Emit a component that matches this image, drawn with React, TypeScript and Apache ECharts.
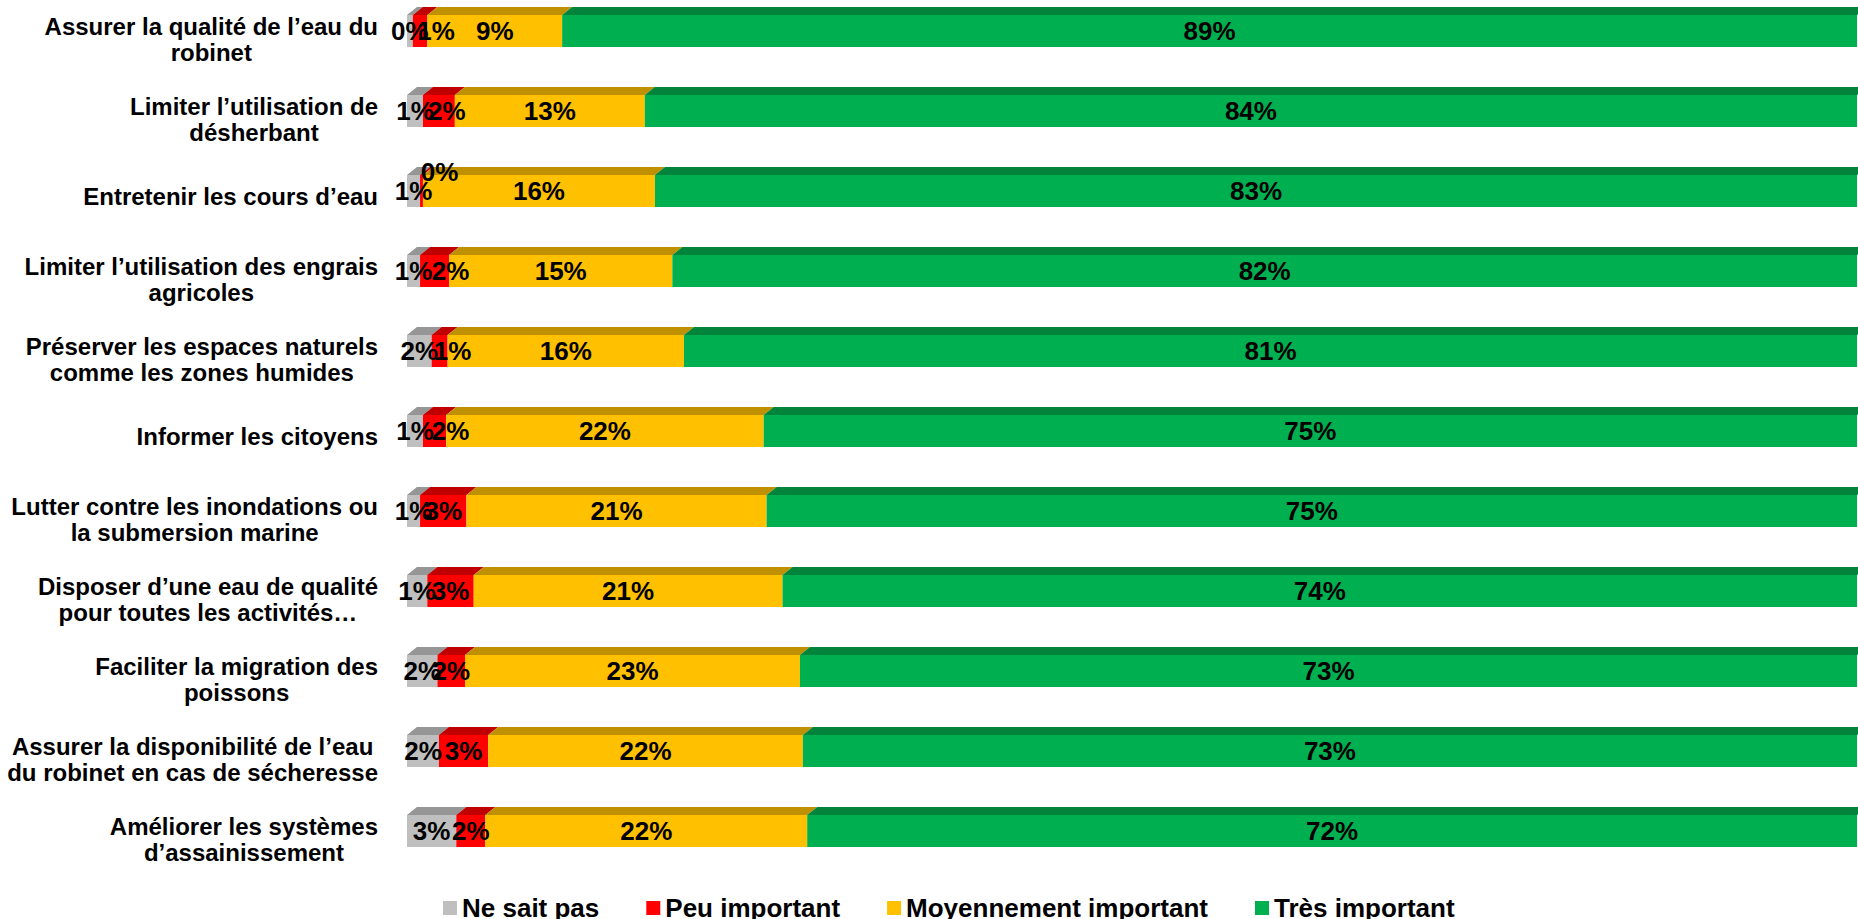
import React, { useEffect, useRef } from 'react';
import * as echarts from 'echarts';

const categories = [
  'Assurer la qualité de l’eau du\nrobinet',
  'Limiter l’utilisation de\ndésherbant',
  'Entretenir les cours d’eau',
  'Limiter l’utilisation des engrais\nagricoles',
  'Préserver les espaces naturels\ncomme les zones humides',
  'Informer les citoyens',
  'Lutter contre les inondations ou\nla submersion marine',
  'Disposer d’une eau de qualité\npour toutes les activités…',
  'Faciliter la migration des\npoissons',
  'Assurer la disponibilité de l’eau\ndu robinet en cas de sécheresse',
  'Améliorer les systèmes\nd’assainissement',
];

const seriesNames = ['Ne sait pas', 'Peu important', 'Moyennement important', 'Très important'];

const neSaitPas = [0.4, 1.1, 0.9, 0.9, 1.7, 1.1, 0.9, 1.4, 2.1, 2.2, 3.4];
const peuImportant = [1.0, 2.2, 0.2, 2.0, 1.1, 1.6, 3.2, 3.2, 1.9, 3.4, 2.0];
const moyennementImportant = [9.3, 13.1, 16.0, 15.4, 16.3, 21.9, 20.7, 21.3, 23.1, 21.7, 22.2];
const tresImportant = [89.3, 83.6, 82.9, 81.7, 80.9, 75.4, 75.2, 74.1, 72.9, 72.7, 72.4];

const allSeries = [neSaitPas, peuImportant, moyennementImportant, tresImportant];

const frontColors = ['#BFBFBF', '#FF0000', '#FFC000', '#00B050'];
const topColors = ['#969696', '#C00000', '#BF9000', '#00843C'];

// label nudges (pixels) for the small "Peu important" labels that the original pushes aside
const peuLabelOffsets: Record<number, number[]> = {
  0: [16, 0],
  1: [8, 0],
  2: [18, -19],
  3: [16, 0],
  4: [13, 0],
  5: [16, 0],
};

const FONT = "'Liberation Sans', Arial, sans-serif";
const BAR_W = 32;
const DEPTH_X = 10;
const DEPTH_Y = 8;

export default function App() {
  const ref = useRef<HTMLDivElement>(null);

  useEffect(() => {
    if (!ref.current) return;
    const chart = echarts.init(ref.current, undefined, { renderer: 'svg' });

    // top faces data: [start, end, categoryIndex, seriesIndex]
    const topData: number[][] = [];
    categories.forEach((_, ci) => {
      let acc = 0;
      allSeries.forEach((arr, si) => {
        topData.push([acc, acc + arr[ci], ci, si]);
        acc += arr[ci];
      });
    });

    const barSeries = allSeries.map((arr, si) => ({
      name: seriesNames[si],
      type: 'bar',
      stack: 'total',
      barWidth: BAR_W,
      z: 3,
      itemStyle: { color: frontColors[si] },
      label: {
        show: true,
        position: 'inside',
        color: '#000',
        fontSize: 26,
        fontWeight: 'bold',
        fontFamily: FONT,
        formatter: (p: any) => Math.round(p.value) + '%',
      },
      data: arr.map((v, ci) =>
        si === 1 && peuLabelOffsets[ci] ? { value: v, label: { offset: peuLabelOffsets[ci] } } : v
      ),
    }));

    const yData = categories.map((c) => ({
      value: c,
      textStyle: { padding: c.indexOf('\n') >= 0 ? [17, 0, 0, 0] : [10, 0, 0, 0] },
    }));

    const option: any = {
      animation: false,
      backgroundColor: '#FFFFFF',
      grid: { left: 407, right: 1, top: -9, height: 880, containLabel: false, outerBoundsMode: 'none' },
      xAxis: {
        type: 'value',
        min: 0,
        max: 100,
        show: false,
      },
      yAxis: {
        type: 'category',
        inverse: true,
        data: yData,
        axisLine: { show: false },
        axisTick: { show: false },
        splitLine: { show: false },
        axisLabel: {
          margin: 29,
          align: 'right',
          fontFamily: FONT,
          fontSize: 24,
          fontWeight: 'bold',
          color: '#000',
          lineHeight: 26,
          formatter: (v: string) =>
            v
              .split('\n')
              .map((l) => '{c|' + l + '}')
              .join('\n'),
          rich: {
            c: {
              align: 'center',
              fontFamily: FONT,
              fontSize: 24,
              fontWeight: 'bold',
              color: '#000',
              lineHeight: 26,
            },
          },
        },
      },
      legend: {
        left: 438,
        top: 889,
        itemWidth: 14,
        itemHeight: 14,
        itemGap: 47,
        icon: 'rect',
        data: seriesNames,
        textStyle: {
          fontFamily: FONT,
          fontSize: 26,
          fontWeight: 'bold',
          color: '#000',
          lineHeight: 28,
        },
      },
      series: [
        {
          type: 'custom',
          silent: true,
          z: 1,
          encode: { x: [0, 1], y: 2 },
          data: topData,
          renderItem: (params: any, api: any) => {
            const start = api.value(0);
            const end = api.value(1);
            const ci = api.value(2);
            const si = api.value(3);
            const p0 = api.coord([start, ci]);
            const p1 = api.coord([end, ci]);
            const yTop = p0[1] - BAR_W / 2;
            return {
              type: 'polygon',
              shape: {
                points: [
                  [p0[0], yTop],
                  [p1[0], yTop],
                  [p1[0] + DEPTH_X, yTop - DEPTH_Y],
                  [p0[0] + DEPTH_X, yTop - DEPTH_Y],
                ],
              },
              style: { fill: topColors[si] },
            };
          },
        },
        ...barSeries,
      ],
    };

    chart.setOption(option);
    return () => chart.dispose();
  }, []);

  return (
    <div
      ref={ref}
      style={{ position: 'absolute', left: 0, top: 0, width: 1858, height: 919 }}
    />
  );
}
